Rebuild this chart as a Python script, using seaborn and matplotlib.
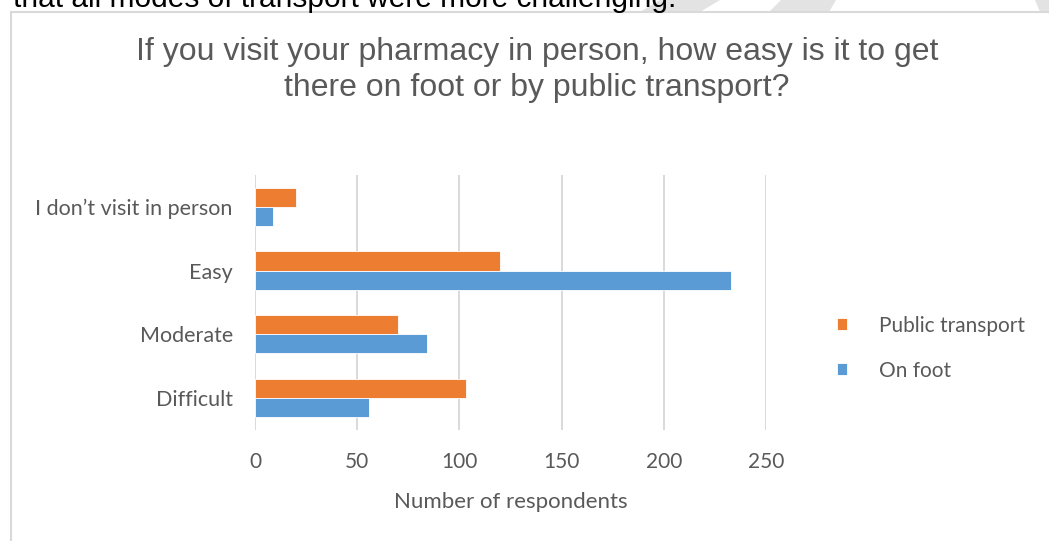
import pandas as pd
import matplotlib.pyplot as plt
from matplotlib.lines import Line2D
from matplotlib.patches import Polygon
import seaborn as sns

# Survey answers
categories = ["I don\u2019t visit in person", "Easy", "Moderate", "Difficult"]
public_transport = [20, 120, 70, 103]
on_foot = [9, 233, 84, 56]
series_names = ["Public transport", "On foot"]
x_ticks = [0, 50, 100, 150, 200, 250]

df = pd.DataFrame({
    "answer": categories * 2,
    "mode": [series_names[0]] * len(categories) + [series_names[1]] * len(categories),
    "count": public_transport + on_foot,
})

sns.set_theme(style="white")
plt.rcParams['font.family'] = ['Lato', 'DejaVu Sans']
text_grey = '#595959'

W, H = 1049, 541
fig = plt.figure(figsize=(W / 100, H / 100), dpi=100)
ax = fig.add_axes([255 / W, 1 - 430 / H, (766 - 255) / W, (430 - 175) / H])

sns.barplot(data=df, x="count", y="answer", hue="mode",
            order=categories, hue_order=series_names,
            palette=['#ED7D31', '#5B9BD5'], width=0.6,
            edgecolor='white', linewidth=0.6, saturation=1, ax=ax)

ax.set_xlim(0, 250)
ax.set_xticks(x_ticks)
ax.xaxis.grid(True, color='#d9d9d9', linewidth=1.4)
ax.yaxis.grid(False)
ax.set_axisbelow(True)
for s in ax.spines.values():
    s.set_visible(False)
ax.tick_params(axis='x', length=0, pad=16, labelsize=15, labelcolor=text_grey)
ax.tick_params(axis='y', length=0, pad=16, labelsize=15.5, labelcolor=text_grey)
ax.set_ylabel('')
ax.set_xlabel('Number of respondents', fontsize=16, color=text_grey, labelpad=14)

leg = ax.legend(loc='center left', bbox_to_anchor=(818 / W, 1 - 348 / H),
                bbox_transform=fig.transFigure, frameon=False,
                fontsize=15, handlelength=0.5, handleheight=0.5,
                handletextpad=1.55, labelspacing=1.2)
for t in leg.get_texts():
    t.set_color(text_grey)

# chart title
fig.text(537 / W, 1 - 70 / H,
         "If you visit your pharmacy in person, how easy is it to get\nthere on foot or by public transport?",
         ha='center', va='center', fontsize=23, color=text_grey,
         family='Liberation Sans', linespacing=1.3)

# chart frame and the cut-off document text above it
fig.add_artist(Line2D([11 / W, 11 / W], [0, 1 - 12 / H], transform=fig.transFigure,
                      color='#d9d9d9', linewidth=1.5))
fig.add_artist(Line2D([11 / W, 1], [1 - 12 / H, 1 - 12 / H], transform=fig.transFigure,
                      color='#d9d9d9', linewidth=1.5))
for pts in ([(640, 12), (700, 12), (720, 0), (660, 0)],
            [(769, 12), (829, 12), (836, 0), (781, 0)],
            [(1035, 0), (1049, 0), (1049, 12), (1040, 12)]):
    fig.add_artist(Polygon([(x / W, 1 - y / H) for x, y in pts], closed=True,
                           transform=fig.transFigure, facecolor='#e3e3e3',
                           edgecolor='none', zorder=0))
fig.text(13 / W, 1 - 7 / H, "that all modes of transport were more challenging.",
         ha='left', va='baseline', fontsize=21.5, color='black', family='Liberation Sans')

fig.savefig('out.png', dpi=100)
